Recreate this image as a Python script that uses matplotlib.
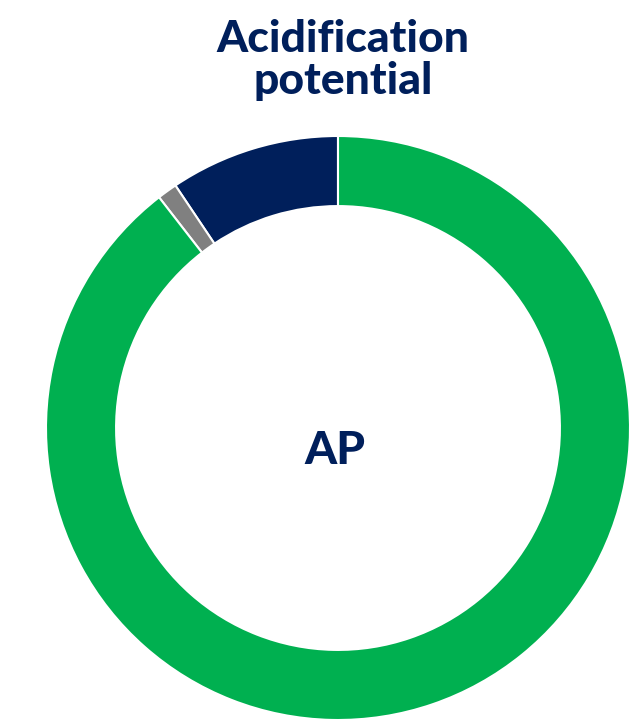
import matplotlib.pyplot as plt

labels = ["Navy", "Grey", "Green"]
shares = [9.4, 1.1, 89.5]
colors = ["#001F5B", "#808080", "#00B050"]

title = "Acidification\npotential"
center_label = "AP"

fig = plt.figure(figsize=(6.42, 7.21), dpi=100)
ax = fig.add_axes([46 / 642, 1 / 721, 584 / 642, 584 / 721])
ax.pie(shares, colors=colors, startangle=90, counterclock=True, radius=1.0,
       wedgeprops=dict(width=0.24, edgecolor="white", linewidth=1.5))
ax.set_xlim(-1, 1)
ax.set_ylim(-1, 1)
ax.set_aspect("equal")
ax.axis("off")

ax.text(-0.01, -0.08, center_label, ha="center", va="center", fontsize=33,
        fontweight="black", family="Lato", color="#001F5B")
fig.text(343 / 642, 1 - 60 / 721, title, ha="center", va="center", fontsize=32,
         fontweight="black", family="Lato", color="#001F5B", linespacing=1.05)

fig.savefig("out.png", dpi=100)
